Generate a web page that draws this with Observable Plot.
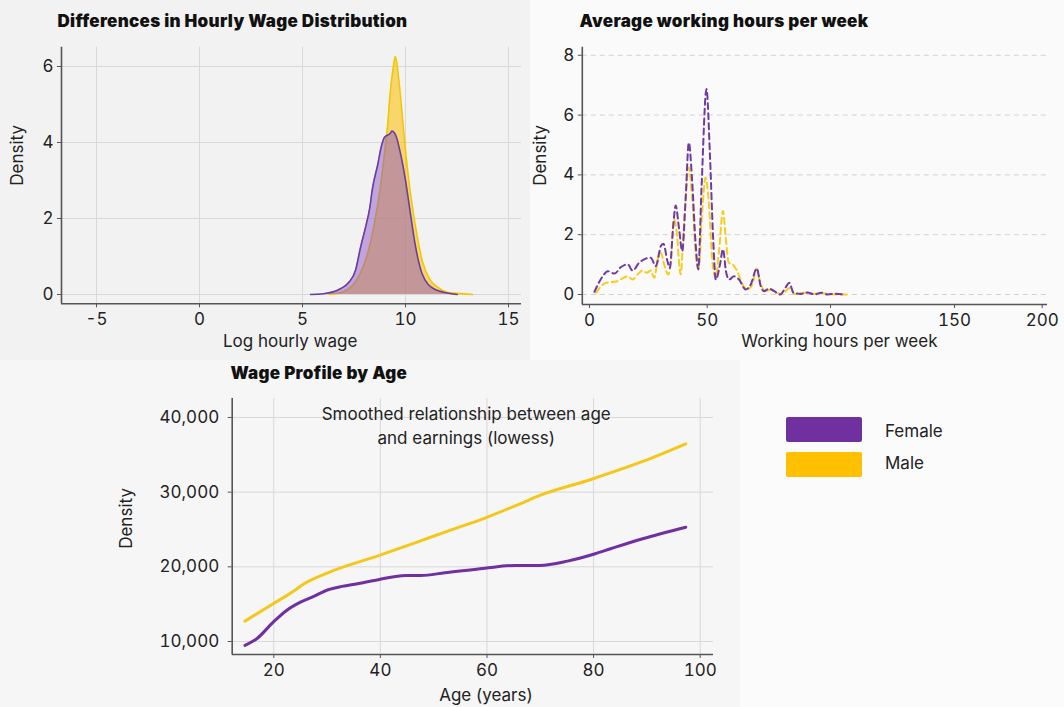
<!DOCTYPE html>
<html>
<head>
<meta charset="utf-8">
<script src="https://cdn.jsdelivr.net/npm/d3@7"></script>
<script src="https://cdn.jsdelivr.net/npm/@observablehq/plot@0.6"></script>
<style>
  html, body { margin: 0; padding: 0; }
  body { width: 1064px; height: 707px; background: #f6f6f6; overflow: hidden; font-family: Inter, "Noto Sans", sans-serif; }
  #root { position: relative; width: 1064px; height: 707px; }
  .bg { position: absolute; }
  .panel { position: absolute; }
  .title { position: absolute; font-family: Inter, sans-serif; font-weight: 900; font-size: 17px; color: #111; letter-spacing: 0.3px; line-height: 20px; white-space: nowrap; }
  .lg-swatch { position: absolute; width: 76px; height: 25px; border-radius: 2px; }
  .lg-label { position: absolute; font-family: Inter, sans-serif; font-size: 17px; color: #222; line-height: 20px; }
</style>
</head>
<body>
<div id="root">
  <div class="bg" style="left:0;top:0;width:530px;height:360px;background:#f2f2f2"></div>
  <div class="bg" style="left:530px;top:0;width:534px;height:360px;background:#fafafa"></div>
  <div class="bg" style="left:740px;top:360px;width:324px;height:347px;background:#fbfbfb"></div>
</div>
<script>
// ---------- Data ----------
const sexes = ["Female", "Male"];
const sexColors = ["#7030A0", "#FFC000"];

// Panel 1: density of log hourly wage
const wageFemaleX = [5.39, 6.03, 6.84, 7.25, 7.57, 7.82, 8.06, 8.27, 8.38, 8.66, 8.82, 8.98, 9.24, 9.35, 9.56, 9.76, 10.0, 10.24, 10.49, 10.81, 11.37, 12.02, 12.51];
const wageFemaleY = [0.0, 0.02, 0.15, 0.32, 0.63, 1.25, 1.77, 2.30, 2.74, 3.44, 3.88, 4.14, 4.23, 4.30, 4.14, 3.70, 3.0, 2.12, 1.25, 0.54, 0.15, 0.04, 0.0];
const wageMaleX = [6.3, 6.9, 7.4, 7.8, 8.2, 8.5, 8.8, 9.0, 9.11, 9.27, 9.4, 9.51, 9.62, 9.75, 9.92, 10.16, 10.49, 10.81, 11.21, 11.6, 12.02, 12.5, 13.25];
const wageMaleY = [0.0, 0.06, 0.22, 0.55, 1.15, 1.9, 2.9, 3.8, 4.32, 5.37, 5.95, 6.26, 5.9, 5.25, 4.23, 3.0, 1.77, 0.89, 0.37, 0.18, 0.06, 0.03, 0.0];
const wageXTicks = [-5, 0, 5, 10, 15];
const wageYTicks = [0, 2, 4, 6];

// Panel 2: density of weekly working hours
const hoursFemaleX = [2.1, 5.6, 7.7, 10.6, 13.4, 16.2, 18.3, 21.1, 23.9, 26.0, 28.2, 30.3, 31.4, 33.1, 34.1, 35.5, 36.6, 38.0, 39.4, 40.8, 42.2, 43.6, 45.1, 46.2, 47.6, 49.7, 51.1, 52.4, 53.5, 55.2, 56.4, 57.6, 58.8, 60.9, 62.9, 65.6, 67.7, 70.1, 71.7, 73.1, 75.1, 77.2, 79.6, 81.9, 83.3, 85.0, 88.0, 90.7, 93.5, 96.2, 98.9, 101.6, 105.0];
const hoursFemaleY = [0.09, 0.61, 0.78, 0.70, 0.92, 1.01, 0.80, 1.06, 1.20, 1.23, 0.95, 1.62, 1.70, 1.12, 0.89, 2.23, 2.98, 2.23, 1.45, 3.13, 5.08, 3.80, 1.68, 0.84, 3.58, 6.87, 4.69, 1.90, 0.50, 1.01, 1.51, 0.78, 0.50, 0.61, 0.50, 0.17, 0.34, 0.87, 0.28, 0.11, 0.20, 0.11, 0.0, 0.25, 0.39, 0.06, 0.02, 0.07, 0.0, 0.06, 0.0, 0.03, 0.0];
const hoursMaleX = [2.8, 4.9, 7.0, 9.9, 12.0, 14.1, 16.2, 18.3, 20.4, 22.5, 24.4, 26.0, 27.5, 29.1, 30.3, 31.7, 33.5, 34.5, 35.9, 37.0, 38.7, 40.1, 42.2, 43.6, 45.3, 46.4, 47.9, 49.3, 50.7, 52.0, 53.4, 54.8, 56.4, 57.5, 58.8, 60.2, 62.2, 64.3, 66.3, 68.3, 70.1, 71.7, 73.8, 75.8, 77.9, 80.6, 83.3, 85.4, 89.4, 92.8, 96.2, 100.3, 105.7, 108.0];
const hoursMaleY = [0.06, 0.28, 0.39, 0.42, 0.45, 0.54, 0.61, 0.50, 0.67, 0.80, 0.73, 0.80, 0.56, 1.23, 1.40, 1.01, 0.67, 1.06, 2.51, 2.12, 0.67, 2.35, 4.25, 3.24, 1.23, 0.89, 2.79, 3.91, 3.02, 1.23, 0.56, 1.45, 2.79, 1.90, 1.06, 1.01, 0.78, 0.34, 0.17, 0.34, 0.87, 0.34, 0.11, 0.17, 0.06, 0.02, 0.22, 0.02, 0.06, 0.02, 0.04, 0.01, 0.0, 0.0];
const hoursXTicks = [0, 50, 100, 150, 200];
const hoursYTicks = [0, 2, 4, 6, 8];

// Panel 3: lowess wage profile by age
const ageFemale = [14.6, 16.8, 19.9, 22.4, 25.0, 27.6, 30.2, 32.8, 35.7, 39.8, 44.7, 47.6, 52.1, 59.6, 65.4, 69.9, 75.1, 80.3, 83.2, 89.2, 97.3];
const earnFemale = [9480, 10370, 12600, 14160, 15270, 16080, 16930, 17380, 17740, 18310, 18840, 18840, 19200, 19820, 20190, 20190, 20760, 21750, 22420, 23760, 25310];
const ageMale = [14.6, 19.9, 23.9, 25.4, 30.5, 39.8, 46.9, 52.1, 59.6, 66.2, 69.9, 79.5, 89.2, 97.3];
const earnMale = [12730, 15060, 16840, 17600, 19290, 21530, 23310, 24650, 26520, 28440, 29560, 31700, 34110, 36480];
const ageTicks = [20, 40, 60, 80, 100];
const earnTicks = [10000, 20000, 30000, 40000];
const annotation = "Smoothed relationship between age\nand earnings (lowess)";

const titles = ["Differences in Hourly Wage Distribution", "Average working hours per week", "Wage Profile by Age"];

// ---------- Helpers ----------
const zip = (xs, ys) => xs.map((x, i) => ({x, y: ys[i]}));
const axisColor = "#555";
const textColor = "#222";
const font = "Inter, 'Noto Sans', sans-serif";
const fs = 17;
const root = document.getElementById("root");

function place(el, left, top) {
  const wrap = document.createElement("div");
  wrap.className = "panel";
  wrap.style.left = left + "px";
  wrap.style.top = top + "px";
  wrap.appendChild(el);
  root.appendChild(wrap);
}
function addTitle(text, left, top) {
  const d = document.createElement("div");
  d.className = "title";
  d.style.left = left + "px";
  d.style.top = top + "px";
  d.textContent = text;
  root.appendChild(d);
}
const baseStyle = {background: "transparent", fontFamily: font, fontSize: fs + "px", color: textColor, overflow: "visible"};
const intFmt = d => String(d);

// ---------- Panel 1 ----------
{
  const xd = [-6.7, 15.63], yd = [-0.245, 6.508];
  const fem = zip(wageFemaleX, wageFemaleY), mal = zip(wageMaleX, wageMaleY);
  const p = Plot.plot({
    width: 530, height: 330,
    marginLeft: 61, marginTop: 16.7, marginBottom: 56.7, marginRight: 9,
    style: baseStyle,
    x: {domain: xd, label: null},
    y: {domain: yd, label: null},
    marks: [
      Plot.gridX(wageXTicks, {stroke: "#d8d8d8", strokeOpacity: 1, strokeWidth: 1}),
      Plot.gridY(wageYTicks, {stroke: "#d8d8d8", strokeOpacity: 1, strokeWidth: 1}),
      Plot.areaY(mal, {x: "x", y: "y", fill: sexColors[1], fillOpacity: 0.55, curve: "monotone-x"}),
      Plot.lineY(mal, {x: "x", y: "y", stroke: "#f2c700", strokeWidth: 1.6, curve: "monotone-x"}),
      Plot.areaY(fem, {x: "x", y: "y", fill: "#8e55c8", fillOpacity: 0.5, curve: "monotone-x"}),
      Plot.lineY(fem, {x: "x", y: "y", stroke: "#6a3d9e", strokeWidth: 1.6, curve: "monotone-x"}),
      Plot.axisX({ticks: wageXTicks, tickSize: 4, tickPadding: 5, tickFormat: intFmt, stroke: axisColor, fill: textColor, fontSize: fs, label: null}),
      Plot.axisY({ticks: wageYTicks, tickSize: 4, tickPadding: 4, tickFormat: intFmt, stroke: axisColor, fill: textColor, fontSize: fs, label: null}),
      Plot.ruleX([xd[0]], {stroke: axisColor, strokeWidth: 1.6}),
      Plot.ruleY([yd[0]], {stroke: axisColor, strokeWidth: 1.6}),
      Plot.text(["Log hourly wage"], {frameAnchor: "bottom", x: 4.4, dy: 38, lineAnchor: "middle", textAnchor: "middle", fontSize: fs, fill: textColor}),
      Plot.text(["Density"], {frameAnchor: "left", y: 3.66, dx: -44, rotate: -90, lineAnchor: "middle", textAnchor: "middle", fontSize: fs, fill: textColor})
    ]
  });
  place(p, 0, 30);
}

// ---------- Panel 2 ----------
{
  const xd = [-3.06, 0, 50, 100, 150, 200, 203], xr = [51.8, 59, 176.7, 300, 424, 511.7, 517];
  const yd = [-0.334, 8.27];
  const fem = zip(hoursFemaleX, hoursFemaleY), mal = zip(hoursMaleX, hoursMaleY);
  const p = Plot.plot({
    width: 534, height: 330,
    marginLeft: 51.8, marginTop: 16.7, marginBottom: 56, marginRight: 17,
    style: baseStyle,
    x: {type: "linear", domain: xd, range: xr, label: null},
    y: {domain: yd, label: null},
    marks: [
      Plot.gridY(hoursYTicks, {stroke: "#d2d2d2", strokeOpacity: 1, strokeWidth: 1, strokeDasharray: "5,4"}),
      Plot.line(mal, {x: "x", y: "y", stroke: "#f7cc1a", strokeWidth: 2, strokeDasharray: "6,4", curve: "monotone-x"}),
      Plot.line(fem, {x: "x", y: "y", stroke: "#6f3aa6", strokeWidth: 2, strokeDasharray: "6,4", curve: "monotone-x"}),
      Plot.axisX({ticks: hoursXTicks, tickSize: 4, tickPadding: 5, tickFormat: intFmt, stroke: axisColor, fill: textColor, fontSize: fs, label: null}),
      Plot.axisY({ticks: hoursYTicks, tickSize: 4, tickPadding: 4, tickFormat: intFmt, stroke: axisColor, fill: textColor, fontSize: fs, label: null}),
      Plot.ruleX([xd[0]], {stroke: axisColor, strokeWidth: 1.6}),
      Plot.ruleY([yd[0]], {stroke: axisColor, strokeWidth: 1.6}),
      Plot.text(["Working hours per week"], {frameAnchor: "bottom", x: 103.6, dy: 37, lineAnchor: "middle", textAnchor: "middle", fontSize: fs, fill: textColor}),
      Plot.text(["Density"], {frameAnchor: "left", y: 4.65, dx: -42, rotate: -90, lineAnchor: "middle", textAnchor: "middle", fontSize: fs, fill: textColor})
    ]
  });
  place(p, 530, 30);
}

// ---------- Panel 3 ----------
{
  const xd = [12.2, 102.5], yd = [8260, 42540];
  const fem = zip(ageFemale, earnFemale), mal = zip(ageMale, earnMale);
  const p = Plot.plot({
    width: 740, height: 327,
    marginLeft: 231.7, marginTop: 18, marginBottom: 53, marginRight: 27,
    style: baseStyle,
    x: {domain: xd, label: null},
    y: {domain: yd, label: null},
    marks: [
      Plot.gridX(ageTicks, {stroke: "#d8d8d8", strokeOpacity: 1, strokeWidth: 1}),
      Plot.gridY(earnTicks, {stroke: "#d8d8d8", strokeOpacity: 1, strokeWidth: 1}),
      Plot.line(mal, {x: "x", y: "y", stroke: "#f4c81a", strokeWidth: 3, curve: "monotone-x"}),
      Plot.line(fem, {x: "x", y: "y", stroke: "#7030A0", strokeWidth: 3, curve: "monotone-x"}),
      Plot.axisX({ticks: ageTicks, tickSize: 4, tickPadding: 5, tickFormat: intFmt, stroke: axisColor, fill: textColor, fontSize: fs, label: null}),
      Plot.axisY({ticks: earnTicks, tickSize: 4, tickPadding: 9, tickFormat: d3.format(","), stroke: axisColor, fill: textColor, fontSize: fs, label: null}),
      Plot.ruleX([xd[0]], {stroke: axisColor, strokeWidth: 1.6}),
      Plot.ruleY([yd[0]], {stroke: axisColor, strokeWidth: 1.6}),
      Plot.text([annotation], {x: 56.1, y: 39060, lineAnchor: "middle", lineHeight: 1.42, fontSize: fs, fill: textColor}),
      Plot.text(["Age (years)"], {frameAnchor: "bottom", x: 59.8, dy: 41, lineAnchor: "middle", textAnchor: "middle", fontSize: fs, fill: textColor}),
      Plot.text(["Density"], {frameAnchor: "left", y: 26480, dx: -106, rotate: -90, lineAnchor: "middle", textAnchor: "middle", fontSize: fs, fill: textColor})
    ]
  });
  place(p, 0, 380);
}

// ---------- Titles ----------
addTitle(titles[0], 57.5, 10.5);
addTitle(titles[1], 579.4, 10.5);
addTitle(titles[2], 230.5, 362.5);

// ---------- Legend ----------
sexes.forEach((s, i) => {
  const sw = document.createElement("div");
  sw.className = "lg-swatch";
  sw.style.left = "785.7px";
  sw.style.top = (417.3 + i * 35) + "px";
  sw.style.background = sexColors[i];
  root.appendChild(sw);
  const lb = document.createElement("div");
  lb.className = "lg-label";
  lb.style.left = "885px";
  lb.style.top = (420.7 + i * 32) + "px";
  lb.textContent = s;
  root.appendChild(lb);
});
</script>
</body>
</html>
